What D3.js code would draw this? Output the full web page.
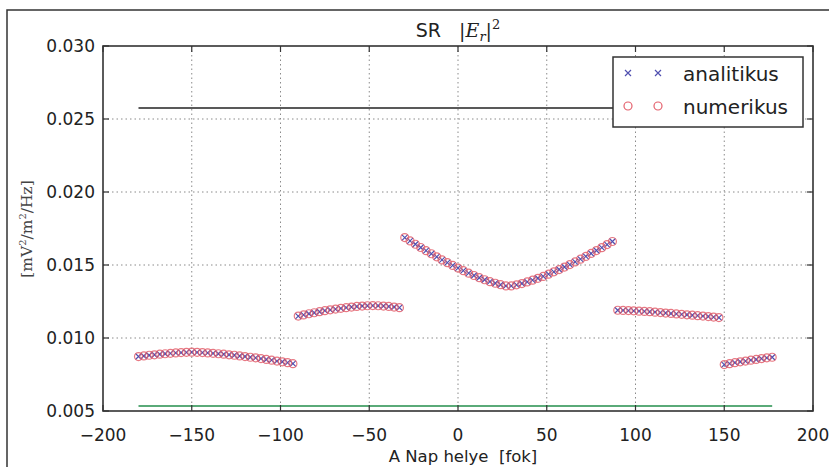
<!DOCTYPE html>
<html>
<head>
<meta charset="utf-8">
<script src="https://cdn.jsdelivr.net/npm/d3@7"></script>
<style>
  html, body { margin: 0; padding: 0; background: #fff; }
  svg { display: block; }
</style>
</head>
<body>
<svg id="chart" width="829" height="467"></svg>
<script>
// ---------------- data ----------------
// sun position (degrees), one value every 3 degrees
const sunPos = d3.range(-180, 180, 3);
// |E_r|^2 in mV^2/m^2/Hz (segments separated by breaks)
const seg1 = [0.00873,0.00877,0.00882,0.00885,0.00889,0.00892,0.00895,0.00898,0.00900,0.00902,
              0.00903,0.00902,0.00900,0.00898,0.00895,0.00892,0.00889,0.00885,0.00882,0.00877,
              0.00873,0.00868,0.00864,0.00859,0.00853,0.00848,0.00842,0.00837,0.00831,0.00824];
const seg2 = [0.01150,0.01158,0.01166,0.01173,0.01180,0.01187,0.01193,0.01198,0.01203,0.01208,
              0.01212,0.01216,0.01219,0.01221,0.01222,0.01221,0.01219,0.01216,0.01212,0.01208];
const seg3 = [0.01688,0.01665,0.01642,0.01620,0.01598,0.01577,0.01556,0.01535,0.01516,0.01497,
              0.01479,0.01461,0.01444,0.01428,0.01413,0.01399,0.01386,0.01375,0.01365,0.01357,
              0.01357,0.01364,0.01373,0.01384,0.01396,0.01409,0.01422,0.01437,0.01453,0.01469,
              0.01486,0.01503,0.01521,0.01540,0.01559,0.01579,0.01599,0.01619,0.01640,0.01661];
const seg4 = [0.01190,0.01189,0.01188,0.01186,0.01184,0.01182,0.01180,0.01177,0.01174,0.01171,
              0.01168,0.01165,0.01162,0.01159,0.01156,0.01153,0.01150,0.01147,0.01143,0.01140];
const seg5 = [0.00818,0.00824,0.00831,0.00837,0.00842,0.00848,0.00853,0.00859,0.00864,0.00868];
const analitikus = [].concat(seg1, seg2, seg3, seg4, seg5);
const numerikus  = [].concat(seg1, seg2, seg3, seg4, seg5);
// horizontal reference levels
const upperLevel = 0.02575;
const lowerLevel = 0.00535;

const xTicks = [-200, -150, -100, -50, 0, 50, 100, 150, 200];
const yTicks = [0.005, 0.010, 0.015, 0.020, 0.025, 0.030];
const legendLabels = ["analitikus", "numerikus"];

// ---------------- layout ----------------
const svg = d3.select("#chart");
const L = 103, R = 813, T = 46, B = 411;
const x = d3.scaleLinear().domain([-200, 200]).range([L, R]);
const y = d3.scaleLinear().domain([0.005, 0.030]).range([B, T]);

const sans = "'DejaVu Sans', sans-serif";
const serif = "'DejaVu Serif', 'Liberation Serif', serif";
const axisColor = "#333";

// outer frame (top and left edges visible)
svg.append("path").attr("d", "M7,467 L7,10 L829,10")
  .attr("fill", "none").attr("stroke", "#333").attr("stroke-width", 1.5);

// grid
const grid = svg.append("g");
grid.selectAll("line.gx").data(xTicks.slice(1, -1)).join("line")
  .attr("x1", d => x(d)).attr("x2", d => x(d)).attr("y1", T).attr("y2", B)
  .attr("stroke", "#8a8a8a").attr("stroke-width", 1).attr("stroke-dasharray", "1.5,3");
grid.selectAll("line.gy").data(yTicks.slice(1, -1)).join("line")
  .attr("y1", d => y(d)).attr("y2", d => y(d)).attr("x1", L).attr("x2", R)
  .attr("stroke", "#8a8a8a").attr("stroke-width", 1).attr("stroke-dasharray", "1.5,3");

// horizontal level lines
const xFirst = sunPos[0], xLast = sunPos[sunPos.length - 1];
svg.append("line").attr("x1", x(xFirst)).attr("x2", x(xLast))
  .attr("y1", y(upperLevel)).attr("y2", y(upperLevel))
  .attr("stroke", "#222").attr("stroke-width", 1.6);
svg.append("line").attr("x1", x(xFirst)).attr("x2", x(xLast))
  .attr("y1", y(lowerLevel)).attr("y2", y(lowerLevel))
  .attr("stroke", "#5aaa78").attr("stroke-width", 2);

// markers
const blue = "#5050b0", red = "#e4606c";
const xs = 3;
const xMark = `M${-xs},${-xs}L${xs},${xs}M${-xs},${xs}L${xs},${-xs}`;
svg.append("g").selectAll("path").data(analitikus).join("path")
  .attr("transform", (d, i) => `translate(${x(sunPos[i])},${y(d)})`)
  .attr("d", xMark).attr("stroke", blue).attr("stroke-width", 1.2).attr("fill", "none");
svg.append("g").selectAll("circle").data(numerikus).join("circle")
  .attr("cx", (d, i) => x(sunPos[i])).attr("cy", d => y(d)).attr("r", 4)
  .attr("fill", "none").attr("stroke", red).attr("stroke-width", 1.2).attr("stroke-opacity", 0.85);

// axes: frame + inward ticks on all sides
const ax = svg.append("g");
ax.append("rect").attr("x", L).attr("y", T).attr("width", R - L).attr("height", B - T)
  .attr("fill", "none").attr("stroke", axisColor).attr("stroke-width", 1.6);
const tl = 6;
xTicks.forEach(t => {
  ax.append("line").attr("x1", x(t)).attr("x2", x(t)).attr("y1", B).attr("y2", B - tl)
    .attr("stroke", axisColor).attr("stroke-width", 1.2);
  ax.append("line").attr("x1", x(t)).attr("x2", x(t)).attr("y1", T).attr("y2", T + tl)
    .attr("stroke", axisColor).attr("stroke-width", 1.2);
});
yTicks.forEach(t => {
  ax.append("line").attr("x1", L).attr("x2", L + tl).attr("y1", y(t)).attr("y2", y(t))
    .attr("stroke", axisColor).attr("stroke-width", 1.2);
  ax.append("line").attr("x1", R).attr("x2", R - tl).attr("y1", y(t)).attr("y2", y(t))
    .attr("stroke", axisColor).attr("stroke-width", 1.2);
});

// tick labels
const fmtX = d3.format("d");
ax.selectAll("text.xt").data(xTicks).join("text")
  .attr("x", d => x(d)).attr("y", 441).attr("text-anchor", "middle")
  .attr("font-family", sans).attr("font-size", 17).attr("fill", "#222")
  .text(d => fmtX(d));
const fmtY = d3.format(".3f");
ax.selectAll("text.yt").data(yTicks).join("text")
  .attr("x", 95).attr("y", d => y(d) + 6).attr("text-anchor", "end")
  .attr("font-family", sans).attr("font-size", 17).attr("fill", "#222")
  .text(d => fmtY(d));

// axis labels
svg.append("text").attr("x", x(0) + 5).attr("y", 462).attr("text-anchor", "middle")
  .attr("font-family", sans).attr("font-size", 16.5).attr("fill", "#222")
  .text("A Nap helye\u00a0\u00a0[fok]");

const yl = svg.append("text").attr("transform", "translate(32,229) rotate(-90)")
  .attr("text-anchor", "middle").attr("font-family", serif).attr("font-size", 15.5).attr("fill", "#444");
yl.append("tspan").text("[mV");
yl.append("tspan").attr("font-size", 10).attr("dy", -6).text("2");
yl.append("tspan").attr("dy", 6).text("/m");
yl.append("tspan").attr("font-size", 10).attr("dy", -6).text("2");
yl.append("tspan").attr("dy", 6).text("/Hz]");

// title
const title = svg.append("text").attr("x", x(0)).attr("y", 37).attr("text-anchor", "middle")
  .attr("font-size", 19).attr("fill", "#222");
title.append("tspan").attr("font-family", sans).text("SR\u00a0\u00a0\u00a0");
title.append("tspan").attr("font-family", serif).text("|");
title.append("tspan").attr("font-family", serif).attr("font-style", "italic").text("E");
title.append("tspan").attr("font-family", serif).attr("font-style", "italic").attr("font-size", 13).attr("dy", 4).text("r");
title.append("tspan").attr("font-family", serif).attr("dy", -4).text("|");
title.append("tspan").attr("font-family", serif).attr("font-size", 13).attr("dy", -8).text("2");

// legend
const lg = svg.append("g");
lg.append("rect").attr("x", 613).attr("y", 57).attr("width", 190).attr("height", 70)
  .attr("fill", "#fff").attr("stroke", axisColor).attr("stroke-width", 1.5);
const rows = [73, 106];
[628, 658].forEach(mx => {
  lg.append("path").attr("transform", `translate(${mx},${rows[0]})`).attr("d", xMark)
    .attr("stroke", blue).attr("stroke-width", 1.2).attr("fill", "none");
  lg.append("circle").attr("cx", mx).attr("cy", rows[1]).attr("r", 4)
    .attr("fill", "none").attr("stroke", red).attr("stroke-width", 1.2);
});
lg.selectAll("text").data(legendLabels).join("text")
  .attr("x", 683).attr("y", (d, i) => rows[i] + 8)
  .attr("font-family", sans).attr("font-size", 20).attr("fill", "#222")
  .text(d => d);
</script>
</body>
</html>
